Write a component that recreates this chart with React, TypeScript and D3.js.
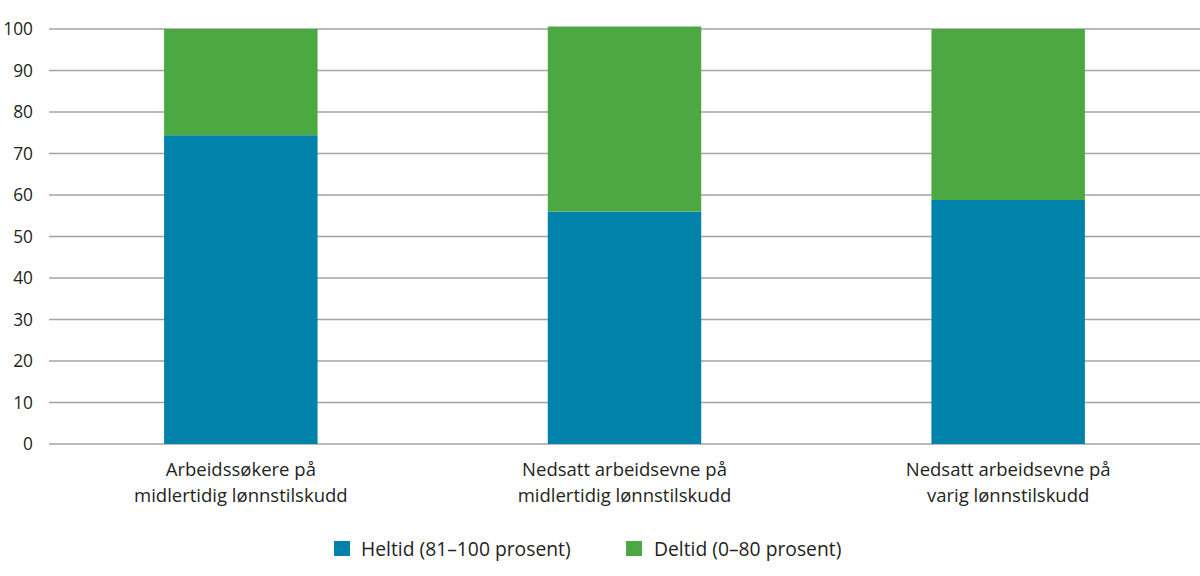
import * as d3 from "d3";
import { useEffect, useRef } from "react";

const categories = [
  ["Arbeidssøkere på", "midlertidig lønnstilskudd"],
  ["Nedsatt arbeidsevne på", "midlertidig lønnstilskudd"],
  ["Nedsatt arbeidsevne på", "varig lønnstilskudd"],
];
const heltid = [74.4, 56.0, 58.8];
const deltid = [25.6, 44.6, 41.2];
const seriesNames = ["Heltid (81–100 prosent)", "Deltid (0–80 prosent)"];
const colors = ["#0082aa", "#4ca843"];
const yTicks = [0, 10, 20, 30, 40, 50, 60, 70, 80, 90, 100];

const App = () => {
  const svgRef = useRef<SVGSVGElement>(null);

  useEffect(() => {
    const svg = d3.select(svgRef.current);
    svg.selectAll("*").remove();

    const width = 1200;
    const height = 576;
    const left = 49;
    const top = 29;
    const bottom = 444;
    const font = "'Open Sans', 'Noto Sans', sans-serif";

    svg.attr("width", width).attr("height", height);

    const x = d3
      .scaleBand()
      .domain(categories.map((_, i) => String(i)))
      .range([left, width])
      .padding(0);
    const barW = x.bandwidth() * 0.4;

    const y = d3.scaleLinear().domain([0, 100]).range([bottom, top]);

    // gridlines
    svg
      .append("g")
      .selectAll("line")
      .data(yTicks)
      .enter()
      .append("line")
      .attr("x1", left)
      .attr("x2", width)
      .attr("y1", (d) => y(d))
      .attr("y2", (d) => y(d))
      .attr("stroke", "#a3a3a3")
      .attr("stroke-width", 1.5);

    // y labels
    svg
      .append("g")
      .selectAll("text")
      .data(yTicks)
      .enter()
      .append("text")
      .attr("x", 33)
      .attr("y", (d) => y(d))
      .attr("dy", "0.35em")
      .attr("text-anchor", "end")
      .style("font-family", font)
      .style("font-size", "17.3px")
      .style("fill", "#231f20")
      .text((d) => d);

    // stacked bars
    const stack = categories.map((_, i) => [
      { y0: 0, y1: heltid[i], c: colors[0] },
      { y0: heltid[i], y1: heltid[i] + deltid[i], c: colors[1] },
    ]);

    stack.forEach((segs, i) => {
      const cx = (x(String(i)) || 0) + x.bandwidth() / 2;
      svg
        .append("g")
        .selectAll("rect")
        .data(segs)
        .enter()
        .append("rect")
        .attr("x", cx - barW / 2)
        .attr("width", barW)
        .attr("y", (d) => y(d.y1))
        .attr("height", (d) => y(d.y0) - y(d.y1))
        .attr("fill", (d) => d.c);

      // category label, one text per line
      categories[i].forEach((line, j) => {
        svg
          .append("text")
          .attr("x", cx)
          .attr("y", 476 + j * 25.5)
          .attr("text-anchor", "middle")
          .style("font-family", font)
          .style("font-size", "18.5px")
          .style("fill", "#231f20")
          .text(line);
      });
    });

    // legend
    const legendX = [334, 626];
    const legendTextX = [361, 654];
    seriesNames.forEach((name, i) => {
      svg
        .append("rect")
        .attr("x", legendX[i])
        .attr("y", 541)
        .attr("width", 16)
        .attr("height", 15)
        .attr("fill", colors[i]);
      svg
        .append("text")
        .attr("x", legendTextX[i])
        .attr("y", 556)
        .style("font-family", font)
        .style("font-size", "19.3px")
        .style("fill", "#231f20")
        .text(name);
    });
  }, []);

  return (
    <svg
      ref={svgRef}
      style={{ position: "absolute", left: 0, top: 0, display: "block" }}
    ></svg>
  );
};

export default App;
